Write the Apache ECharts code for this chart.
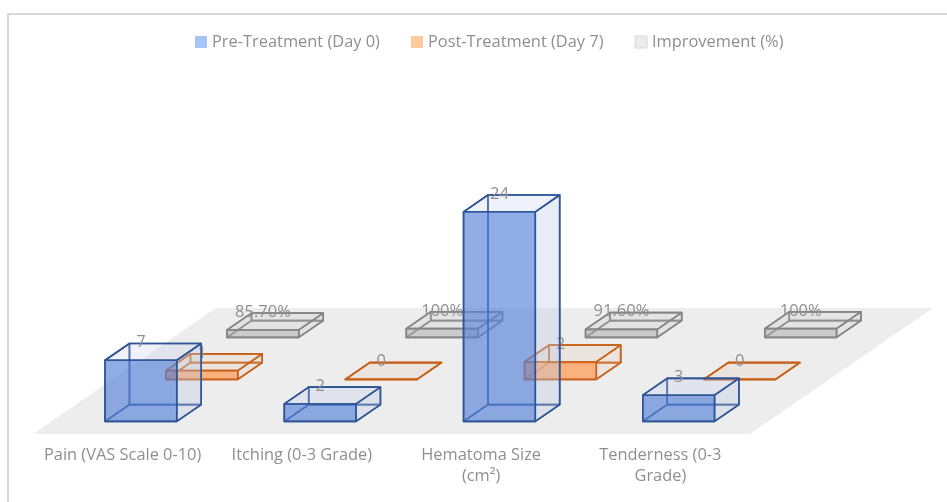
<!DOCTYPE html>
<html>
<head>
<meta charset="utf-8">
<style>
  html, body { margin: 0; padding: 0; background: #fff; }
  #chart { width: 947px; height: 502px; }
</style>
<script src="https://cdn.jsdelivr.net/npm/echarts@6/dist/echarts.min.js"></script>
</head>
<body>
<div id="chart"></div>
<script>
var categories = ['Pain (VAS Scale 0-10)', 'Itching (0-3 Grade)', 'Hematoma Size\n(cm²)', 'Tenderness (0-3\nGrade)'];
var preTreatment = [7, 2, 24, 3];
var postTreatment = [1, 0, 2, 0];
var improvement = [0.857, 1, 0.916, 1];
var improvementLabels = ['85.70%', '100%', '91.60%', '100%'];

var textColor = '#8f8f8f';
var fontName = '"Open Sans", sans-serif';

// oblique projection of the floor, in pixels
var floorDepthX = 183;
var floorDepthY = 126;
var rowCount = 3;
var barWidthRatio = 0.4;
var barDepthRatio = 0.4;

function poly(points, fill, stroke) {
    return {
        type: 'polygon',
        shape: { points: points },
        style: { fill: fill, stroke: stroke, lineWidth: 1.6, lineJoin: 'round' }
    };
}

// one glass-like box per data item, row 0 is the front row of the floor
// only front, right and top are filled, the hidden faces are just wireframe
function boxRenderer(row, look, labels) {
    return function (params, api) {
        var idx = api.value(0);
        var val = api.value(1);
        var base = api.coord([idx, 0]);
        var top = api.coord([idx, val]);
        var band = api.size([1, 0])[0];
        var w = band * barWidthRatio;
        var frontD = (row + 0.5 - barDepthRatio / 2) / rowCount;
        var backD = (row + 0.5 + barDepthRatio / 2) / rowCount;

        var x0 = base[0] - w / 2 + frontD * floorDepthX;
        var x1 = x0 + w;
        var yb = base[1] - frontD * floorDepthY;
        var yt = top[1] - frontD * floorDepthY;
        var dx = (backD - frontD) * floorDepthX;
        var dy = (backD - frontD) * floorDepthY;

        var text = labels ? labels[idx] : String(val);
        return {
            type: 'group',
            children: [
                poly([[x0 + dx, yb - dy], [x1 + dx, yb - dy], [x1 + dx, yt - dy], [x0 + dx, yt - dy]], 'none', look.line),
                poly([[x0, yb], [x1, yb], [x1 + dx, yb - dy], [x0 + dx, yb - dy]], 'none', look.line),
                poly([[x0, yb], [x0 + dx, yb - dy], [x0 + dx, yt - dy], [x0, yt]], 'none', look.line),
                poly([[x1, yb], [x1 + dx, yb - dy], [x1 + dx, yt - dy], [x1, yt]], look.side, look.line),
                poly([[x0, yt], [x1, yt], [x1 + dx, yt - dy], [x0 + dx, yt - dy]], look.top, look.line),
                poly([[x0, yb], [x1, yb], [x1, yt], [x0, yt]], look.front, look.line),
                {
                    type: 'text',
                    z2: 50,
                    style: {
                        x: x0 + w / 2,
                        y: yt - dy - 1,
                        text: text,
                        fill: textColor,
                        font: '16.5px ' + fontName,
                        align: 'center',
                        verticalAlign: 'middle'
                    }
                }
            ]
        };
    };
}

function renderFloor(params, api) {
    var c = params.coordSys;
    var yb = c.y + c.height;
    return {
        type: 'polygon',
        shape: {
            points: [
                [c.x, yb],
                [c.x + c.width, yb],
                [c.x + c.width + floorDepthX, yb - floorDepthY],
                [c.x + floorDepthX, yb - floorDepthY]
            ]
        },
        style: { fill: '#ededed' }
    };
}

function pairs(values) {
    return values.map(function (v, i) { return [i, v]; });
}

var blueLook = { line: '#2f5597', front: 'rgba(88,130,215,0.66)', side: 'rgba(190,200,225,0.35)', top: 'rgba(190,205,235,0.25)' };
var orangeLook = { line: '#c8601a', front: 'rgba(255,160,95,0.78)', side: 'rgba(225,190,165,0.2)', top: 'rgba(225,190,165,0.2)' };
var greyLook = { line: '#858585', front: 'rgba(170,170,170,0.5)', side: 'rgba(190,190,190,0.2)', top: 'rgba(190,190,190,0.2)' };

var chart = echarts.init(document.getElementById('chart'), null, { renderer: 'canvas' });

var option = {
    backgroundColor: '#fff',
    animation: false,
    graphic: [
        { type: 'line', z: -1, shape: { x1: 7, y1: 14, x2: 947, y2: 14 }, style: { stroke: '#d9d9d9', lineWidth: 2 } },
        { type: 'line', z: -1, shape: { x1: 8, y1: 13, x2: 8, y2: 502 }, style: { stroke: '#d9d9d9', lineWidth: 2 } }
    ],
    legend: {
        left: 190,
        top: 29,
        itemWidth: 12,
        itemHeight: 12,
        itemGap: 31,
        icon: 'rect',
        textStyle: { color: textColor, fontFamily: fontName, fontSize: 16.4 },
        data: [
            { name: 'Pre-Treatment (Day 0)', itemStyle: { color: '#a6c4f5', borderColor: '#a6c4f5' } },
            { name: 'Post-Treatment (Day 7)', itemStyle: { color: '#fdcb9a', borderColor: '#fdcb9a' } },
            { name: 'Improvement (%)', itemStyle: { color: '#ececec', borderColor: '#d8d8d8', borderWidth: 1 } }
        ]
    },
    grid: { left: 33, right: 197, top: 172, bottom: 68 },
    xAxis: {
        type: 'category',
        data: categories,
        axisLine: { show: false },
        axisTick: { show: false },
        axisLabel: {
            color: textColor,
            fontFamily: fontName,
            fontSize: 16.4,
            lineHeight: 21,
            margin: 11,
            interval: 0
        }
    },
    yAxis: {
        type: 'value',
        min: 0,
        max: 30,
        interval: 5,
        show: false
    },
    series: [
        { type: 'custom', name: 'floor', z: 1, silent: true, renderItem: renderFloor, data: [[0, 0]] },
        {
            type: 'custom',
            name: 'Improvement (%)',
            z: 2,
            renderItem: boxRenderer(2, greyLook, improvementLabels),
            encode: { x: 0, y: 1 },
            data: pairs(improvement)
        },
        {
            type: 'custom',
            name: 'Post-Treatment (Day 7)',
            z: 3,
            renderItem: boxRenderer(1, orangeLook),
            encode: { x: 0, y: 1 },
            data: pairs(postTreatment)
        },
        {
            type: 'custom',
            name: 'Pre-Treatment (Day 0)',
            z: 4,
            renderItem: boxRenderer(0, blueLook),
            encode: { x: 0, y: 1 },
            data: pairs(preTreatment)
        }
    ]
};

chart.setOption(option);
</script>
</body>
</html>
